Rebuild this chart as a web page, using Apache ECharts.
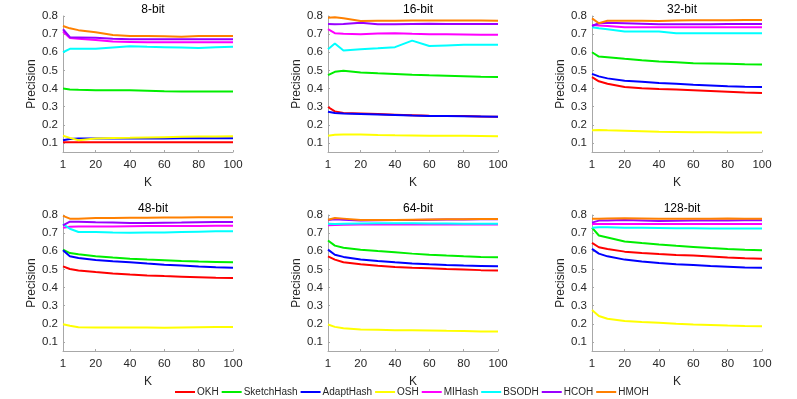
<!DOCTYPE html>
<html>
<head>
<meta charset="utf-8">
<script src="https://cdn.jsdelivr.net/npm/echarts@6/dist/echarts.min.js"></script>
<style>
  html, body { margin: 0; padding: 0; background: #fff; }
  #main { width: 797px; height: 399px; }
</style>
</head>
<body>
<div id="main"></div>
<script>
// K values on x axis
var kValues = [1, 5, 10, 20, 30, 40, 50, 60, 70, 80, 90, 100];
var bitLabels = ['8-bit', '16-bit', '32-bit', '48-bit', '64-bit', '128-bit'];
var xTicks = [1, 20, 40, 60, 80, 100];
var yTicks = [0.1, 0.2, 0.3, 0.4, 0.5, 0.6, 0.7, 0.8];

var methods = ['OKH', 'SketchHash', 'AdaptHash', 'OSH', 'MIHash', 'BSODH', 'HCOH', 'HMOH'];
var colors = ['#ff0000', '#00ee00', '#0000ff', '#ffff00', '#ff00ff', '#00ffff', '#9900ff', '#ff8000'];

// one row per code length: 8, 16, 32, 48, 64, 128 bit
var OKH = [
  [0.104,0.104,0.104,0.104,0.104,0.104,0.104,0.104,0.104,0.104,0.104,0.104],
  [0.298,0.274,0.265,0.262,0.259,0.256,0.253,0.250,0.249,0.248,0.246,0.245],
  [0.463,0.440,0.426,0.408,0.402,0.397,0.394,0.390,0.386,0.382,0.378,0.375],
  [0.517,0.502,0.494,0.485,0.478,0.472,0.467,0.463,0.460,0.457,0.454,0.452],
  [0.572,0.554,0.539,0.528,0.520,0.513,0.509,0.506,0.502,0.499,0.496,0.494],
  [0.646,0.622,0.613,0.598,0.591,0.585,0.580,0.576,0.571,0.566,0.562,0.559]
];
var SketchHash = [
  [0.400,0.395,0.393,0.391,0.390,0.390,0.388,0.385,0.384,0.384,0.384,0.384],
  [0.474,0.492,0.498,0.489,0.484,0.480,0.476,0.473,0.471,0.468,0.465,0.463],
  [0.600,0.576,0.573,0.564,0.556,0.549,0.545,0.540,0.538,0.536,0.534,0.533],
  [0.609,0.590,0.583,0.572,0.565,0.559,0.554,0.550,0.546,0.543,0.541,0.539],
  [0.659,0.631,0.619,0.609,0.601,0.594,0.587,0.581,0.576,0.572,0.569,0.567],
  [0.730,0.687,0.676,0.654,0.645,0.637,0.630,0.624,0.618,0.613,0.609,0.606]
];
var AdaptHash = [
  [0.115,0.122,0.125,0.125,0.125,0.125,0.125,0.125,0.126,0.126,0.126,0.126],
  [0.272,0.265,0.262,0.260,0.257,0.254,0.251,0.249,0.248,0.247,0.246,0.245],
  [0.481,0.467,0.456,0.443,0.437,0.431,0.426,0.421,0.417,0.413,0.410,0.408],
  [0.606,0.572,0.563,0.552,0.545,0.539,0.532,0.526,0.521,0.516,0.512,0.509],
  [0.609,0.581,0.569,0.554,0.546,0.539,0.533,0.528,0.524,0.521,0.519,0.517],
  [0.613,0.587,0.572,0.554,0.543,0.535,0.529,0.524,0.519,0.515,0.511,0.509]
];
var OSH = [
  [0.140,0.128,0.115,0.125,0.127,0.128,0.130,0.132,0.134,0.135,0.136,0.137],
  [0.140,0.145,0.147,0.147,0.144,0.142,0.141,0.140,0.139,0.139,0.138,0.137],
  [0.170,0.172,0.170,0.167,0.164,0.161,0.160,0.159,0.159,0.158,0.158,0.158],
  [0.198,0.189,0.181,0.180,0.180,0.180,0.179,0.178,0.180,0.181,0.182,0.183],
  [0.196,0.183,0.176,0.169,0.167,0.165,0.164,0.163,0.161,0.160,0.158,0.157],
  [0.276,0.243,0.228,0.215,0.210,0.206,0.200,0.196,0.193,0.190,0.188,0.187]
];
var MIHash = [
  [0.714,0.678,0.675,0.668,0.659,0.657,0.655,0.655,0.655,0.655,0.655,0.655],
  [0.727,0.705,0.702,0.700,0.703,0.705,0.702,0.700,0.699,0.698,0.697,0.696],
  [0.750,0.748,0.745,0.738,0.738,0.738,0.738,0.738,0.738,0.738,0.738,0.738],
  [0.730,0.735,0.736,0.737,0.737,0.738,0.739,0.739,0.740,0.740,0.741,0.741],
  [0.743,0.745,0.746,0.748,0.748,0.748,0.748,0.748,0.748,0.748,0.748,0.748],
  [0.750,0.750,0.750,0.750,0.750,0.750,0.750,0.750,0.750,0.750,0.750,0.750]
];
var BSODH = [
  [0.600,0.619,0.619,0.619,0.626,0.633,0.630,0.628,0.626,0.624,0.627,0.630],
  [0.617,0.648,0.610,0.617,0.622,0.628,0.664,0.635,0.638,0.641,0.641,0.642],
  [0.738,0.732,0.727,0.714,0.714,0.714,0.705,0.705,0.705,0.705,0.705,0.705],
  [0.750,0.724,0.706,0.706,0.703,0.702,0.703,0.704,0.706,0.708,0.710,0.711],
  [0.752,0.750,0.752,0.753,0.754,0.755,0.754,0.753,0.753,0.752,0.752,0.752],
  [0.730,0.733,0.732,0.730,0.729,0.728,0.727,0.727,0.726,0.726,0.725,0.725]
];
var HCOH = [
  [0.727,0.683,0.682,0.680,0.675,0.672,0.672,0.672,0.672,0.672,0.672,0.672],
  [0.756,0.754,0.756,0.763,0.754,0.755,0.756,0.757,0.756,0.756,0.756,0.756],
  [0.745,0.760,0.763,0.760,0.757,0.754,0.754,0.755,0.755,0.756,0.756,0.756],
  [0.743,0.763,0.763,0.760,0.758,0.756,0.756,0.757,0.758,0.760,0.761,0.761],
  [0.772,0.776,0.774,0.770,0.771,0.772,0.773,0.774,0.775,0.775,0.776,0.776],
  [0.758,0.769,0.770,0.772,0.770,0.767,0.768,0.769,0.770,0.770,0.771,0.771]
];
var HMOH = [
  [0.745,0.732,0.722,0.710,0.695,0.690,0.690,0.689,0.686,0.690,0.690,0.690],
  [0.791,0.793,0.787,0.773,0.774,0.774,0.775,0.775,0.775,0.775,0.775,0.774],
  [0.787,0.760,0.774,0.774,0.774,0.773,0.775,0.776,0.777,0.777,0.778,0.778],
  [0.795,0.780,0.780,0.783,0.784,0.785,0.785,0.786,0.786,0.787,0.787,0.787],
  [0.774,0.783,0.780,0.772,0.772,0.772,0.774,0.775,0.776,0.777,0.778,0.778],
  [0.780,0.780,0.781,0.782,0.781,0.780,0.780,0.780,0.780,0.781,0.780,0.780]
];
var allData = [OKH, SketchHash, AdaptHash, OSH, MIHash, BSODH, HCOH, HMOH];

var font = 'Liberation Sans, Helvetica, Arial, sans-serif';
var textColor = '#262626';
var lefts = [63, 328, 592];
var tops = [16, 215];

var grids = [], xAxes = [], yAxes = [], titles = [], series = [];
for (var p = 0; p < 6; p++) {
  var col = p % 3, row = Math.floor(p / 3);
  grids.push({ left: lefts[col], top: tops[row], width: 170, height: 136, containLabel: false });
  titles.push({
    text: bitLabels[p],
    left: lefts[col] + 85, top: tops[row] - 17,
    textAlign: 'center',
    textStyle: { fontFamily: font, fontSize: 12, fontWeight: 'normal', color: '#000' }
  });
  xAxes.push({
    gridIndex: p, type: 'value', min: 1, max: 100,
    name: 'K', nameLocation: 'middle', nameGap: 25,
    nameTextStyle: { fontFamily: font, fontSize: 12, color: textColor },
    axisLine: { lineStyle: { color: '#a8a8a8', width: 1 } },
    axisTick: { inside: true, length: 2, customValues: xTicks, lineStyle: { color: '#a8a8a8' } },
    axisLabel: { customValues: xTicks, fontFamily: font, fontSize: 11.5, color: textColor, margin: 7 },
    splitLine: { show: false }
  });
  yAxes.push({
    gridIndex: p, type: 'value', min: 0.05, max: 0.8,
    name: 'Precision', nameLocation: 'middle', nameGap: 24,
    nameTextStyle: { fontFamily: font, fontSize: 12, color: textColor },
    axisLine: { show: true, lineStyle: { color: '#a8a8a8', width: 1 } },
    axisTick: { show: true, inside: true, length: 2, customValues: yTicks, lineStyle: { color: '#a8a8a8' } },
    axisLabel: {
      customValues: yTicks, fontFamily: font, fontSize: 11.5, color: textColor, margin: 5,
      formatter: function (v) { return v.toFixed(1); }
    },
    splitLine: { show: false }
  });
  for (var m = 0; m < methods.length; m++) {
    var pts = [];
    for (var i = 0; i < kValues.length; i++) pts.push([kValues[i], allData[m][p][i]]);
    series.push({
      name: methods[m], type: 'line', xAxisIndex: p, yAxisIndex: p,
      data: pts, showSymbol: false, symbol: 'none', animation: false,
      lineStyle: { width: 2, color: colors[m] }, itemStyle: { color: colors[m] }
    });
  }
}

var chart = echarts.init(document.getElementById('main'));
chart.setOption({
  backgroundColor: '#fff',
  animation: false,
  title: titles,
  grid: grids,
  xAxis: xAxes,
  yAxis: yAxes,
  legend: {
    data: methods, left: 175, top: 387, padding: 0,
    icon: 'rect', itemWidth: 20, itemHeight: 2, itemGap: 3,
    textStyle: { fontFamily: font, fontSize: 10, color: textColor, padding: [0, 0, 0, -3] }
  },
  series: series
});
</script>
</body>
</html>
